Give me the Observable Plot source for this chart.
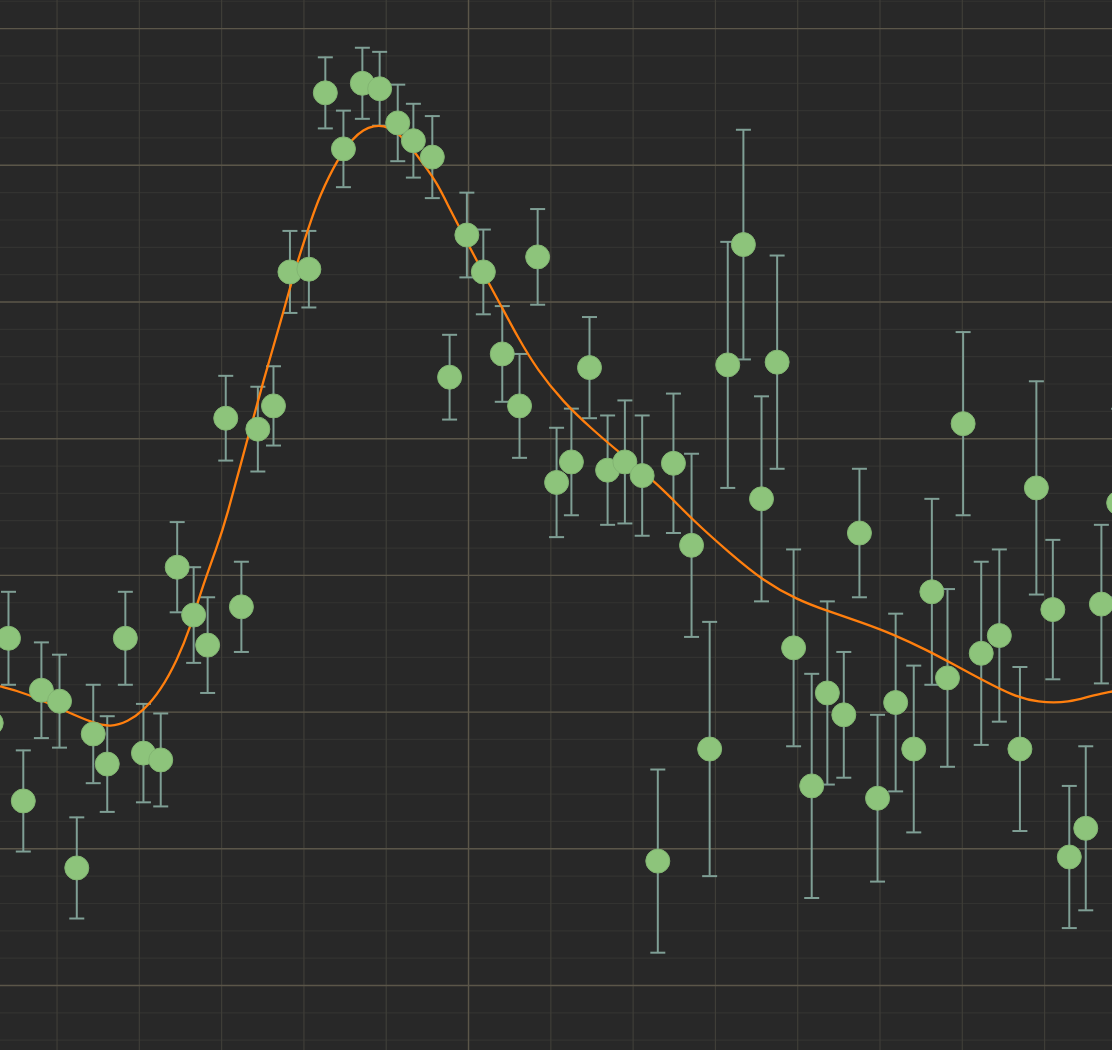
<!DOCTYPE html>
<html><head><meta charset="utf-8">
<script src="https://cdn.jsdelivr.net/npm/d3@7"></script>
<script src="https://cdn.jsdelivr.net/npm/@observablehq/plot@0.6"></script>
<style>html,body{margin:0;padding:0;background:#282828;overflow:hidden}</style>
</head><body><div id="chart"></div>
<script>
// Measurements (x, y, symmetric error)
const xs = [-5.80,-5.59,-5.41,-5.19,-4.97,-4.76,-4.56,-4.39,-4.17,-3.95,-3.74,-3.54,-3.34,-3.17,-2.95,-2.76,-2.56,-2.37,-2.17,-1.94,
  -1.74,-1.52,-1.29,-1.08,-0.86,-0.67,-0.44,-0.23,-0.02,0.18,0.41,0.62,0.84,1.07,1.25,1.47,1.69,1.90,2.11,2.30,
  2.49,2.71,2.93,3.15,3.34,3.56,3.75,3.95,4.17,4.36,4.56,4.75,4.97,5.19,5.41,5.63,5.82,6.01,6.23,6.45,
  6.70,6.90,7.10,7.30,7.50,7.69,7.90];
const ys = [1.92,2.54,1.35,2.16,2.08,0.86,1.84,1.62,2.54,1.70,1.65,3.06,2.71,2.49,4.15,2.77,4.07,4.24,5.22,5.24,
  6.53,6.12,6.60,6.56,6.31,6.18,6.06,4.45,5.49,5.22,4.62,4.24,5.33,3.68,3.83,4.52,3.77,3.83,3.73,0.91,
  3.82,3.22,1.73,4.54,5.42,3.56,4.56,2.47,1.46,2.14,1.98,3.31,1.37,2.07,1.73,2.88,2.25,4.11,2.43,2.56,
  1.73,3.64,2.75,0.94,1.15,2.79,3.53];
const errs = [0.33,0.34,0.37,0.35,0.34,0.37,0.36,0.35,0.34,0.36,0.34,0.33,0.35,0.35,0.31,0.33,0.31,0.29,0.30,0.28,
  0.26,0.28,0.26,0.27,0.28,0.27,0.30,0.31,0.31,0.31,0.35,0.38,0.35,0.40,0.39,0.37,0.40,0.45,0.44,0.67,
  0.51,0.67,0.93,0.90,0.84,0.75,0.78,0.72,0.82,0.67,0.46,0.47,0.61,0.65,0.61,0.68,0.65,0.67,0.67,0.63,
  0.60,0.78,0.51,0.52,0.60,0.58,0.69];

// Smooth fit curve
const curveX = [-5.80,-5.69,-5.38,-4.87,-4.56,-4.35,-4.14,-3.95,-3.74,-3.54,-3.38,-3.26,-3.05,-2.95,-2.69,-2.49,-2.28,-2.08,-1.90,-1.82,-1.59,
  -1.40,-1.28,-1.15,-1.03,-0.91,-0.74,-0.55,-0.38,-0.22,-0.01,0.18,0.39,0.60,0.84,1.15,1.48,1.85,2.30,2.73,3.18,
  3.58,4.00,4.36,4.76,5.16,5.58,5.86,6.26,6.62,6.91,7.31,7.56,7.82,7.95];
const curveY = [2.20,2.19,2.14,2.00,1.92,1.89,1.93,2.01,2.16,2.38,2.62,2.87,3.22,3.40,3.99,4.43,4.86,5.30,5.62,5.76,6.05,
  6.20,6.26,6.29,6.29,6.26,6.17,6.01,5.87,5.67,5.43,5.21,4.98,4.74,4.50,4.27,4.08,3.89,3.67,3.40,3.16,
  2.96,2.82,2.74,2.66,2.57,2.45,2.36,2.23,2.12,2.07,2.07,2.12,2.15,2.17];

// Grid tick positions
const xGrid = d3.range(-5, 8, 1);
const yMajor = d3.range(0, 8, 1);
const yMinor = d3.range(-0.4, 7.3, 0.2).map(v => Math.round(v * 10) / 10);

const points = xs.map((x, i) => ({x, y: ys[i], e: errs[i]}));
const curve = curveX.map((x, i) => ({x, y: curveY[i]}));

const capSymbol = {
  draw(context) {
    context.moveTo(-7.5, 0);
    context.lineTo(7.5, 0);
  }
};

const chart = Plot.plot({
  width: 1112,
  height: 1050,
  margin: 0,
  style: {background: "#282828"},
  x: {domain: [-5.687, 7.825], axis: null},
  y: {domain: [-0.4755, 7.2056], axis: null},
  marks: [
    Plot.ruleY(yMinor, {stroke: "#333331", strokeWidth: 1.2}),
    Plot.ruleX(xGrid, {stroke: "#3f3e38", strokeWidth: 1.2}),
    Plot.ruleY(yMajor, {stroke: "#5b5649", strokeWidth: 1.4}),
    Plot.ruleX([0], {stroke: "#5b5649", strokeWidth: 1.4}),
    Plot.ruleX(points, {x: "x", y1: d => d.y - d.e, y2: d => d.y + d.e, stroke: "#7f9f95", strokeWidth: 2}),
    Plot.dot(points, {x: "x", y: d => d.y + d.e, symbol: capSymbol, fill: "none", stroke: "#7f9f95", strokeWidth: 2}),
    Plot.dot(points, {x: "x", y: d => d.y - d.e, symbol: capSymbol, fill: "none", stroke: "#7f9f95", strokeWidth: 2}),
    Plot.line(curve, {x: "x", y: "y", stroke: "#ff7f0e", strokeWidth: 2.3, curve: "basis"}),
    Plot.dot(points, {x: "x", y: "y", r: 12, fill: "#8dc47b", stroke: "#82b572", strokeWidth: 1})
  ]
});
document.getElementById("chart").appendChild(chart);
</script>
</body></html>
